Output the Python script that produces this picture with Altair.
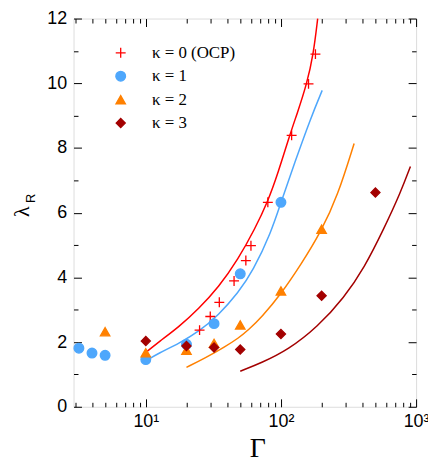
import altair as alt
import pandas as pd

# ---------------- data ----------------
series_names = ["κ = 0 (OCP)", "κ = 1", "κ = 2", "κ = 3"]
series_colors = ["#ff0000", "#4ea7fc", "#ff8000", "#a30000"]
series_shapes = ["M-1,0H1M0,-1V1", "circle", "triangle-up", "diamond"]
series_sizes = [100, 85, 110, 100]

# symbols
k0_gamma = [25, 30, 35, 45, 55, 60, 80, 120, 160, 180]
k0_lambda = [2.37, 2.79, 3.23, 3.89, 4.52, 4.98, 6.32, 8.39, 9.98, 10.9]
k1_gamma = [3.2, 4, 5, 10, 20, 32, 50, 100]
k1_lambda = [1.81, 1.66, 1.59, 1.46, 1.93, 2.57, 4.11, 6.32]
k2_gamma = [5, 10, 20, 32, 50, 100, 200]
k2_lambda = [2.32, 1.67, 1.75, 1.96, 2.53, 3.58, 5.49]
k3_gamma = [10, 20, 32, 50, 100, 200, 500]
k3_lambda = [2.03, 1.88, 1.83, 1.77, 2.25, 3.43, 6.62]

# curves
c0_gamma = [10, 12.5, 17.6, 24.6, 34.5, 48.4, 64.3, 79.6, 95.3, 116, 131.5, 155, 174, 187]
c0_lambda = [1.68, 2.01, 2.47, 3.03, 3.69, 4.57, 5.51, 6.32, 7.23, 8.39, 9.05, 9.96, 10.9, 12.0]
c1_gamma = [10, 12.5, 17.6, 24.6, 34.5, 48.4, 62, 85, 100, 126, 167, 202]
c1_lambda = [1.42, 1.66, 1.96, 2.32, 2.83, 3.53, 4.19, 5.41, 6.32, 7.53, 8.95, 9.78]
c2_gamma = [20, 27.6, 38.7, 48.4, 57.4, 72, 100, 141, 198, 263, 348]
c2_lambda = [1.22, 1.51, 1.86, 2.12, 2.37, 2.77, 3.48, 4.40, 5.41, 6.52, 8.14]
c3_gamma = [50, 72, 113, 187, 294, 413, 579, 767, 908]
c3_lambda = [1.10, 1.36, 1.76, 2.47, 3.38, 4.29, 5.51, 6.62, 7.43]

x_major = [10, 100, 1000]
x_minor = [3, 4, 5, 6, 7, 8, 9, 20, 30, 40, 50, 60, 70, 80, 90,
           200, 300, 400, 500, 600, 700, 800, 900]
y_major = [0, 2, 4, 6, 8, 10, 12]
y_minor = [1, 3, 5, 7, 9, 11]

x_title = "Γ"
y_title = "λ"
y_title_sub = ["R"]


# ---------------- tables ----------------
def build(pairs):
    rows = []
    idx = 0
    for name, gs, ls in pairs:
        for g, l in zip(gs, ls):
            rows.append({"series": name, "gamma": g, "lam": l, "idx": idx})
            idx += 1
    return pd.DataFrame(rows)


points_df = build([(series_names[0], k0_gamma, k0_lambda),
                   (series_names[1], k1_gamma, k1_lambda),
                   (series_names[2], k2_gamma, k2_lambda),
                   (series_names[3], k3_gamma, k3_lambda)])
curves_df = build([(series_names[0], c0_gamma, c0_lambda),
                   (series_names[1], c1_gamma, c1_lambda),
                   (series_names[2], c2_gamma, c2_lambda),
                   (series_names[3], c3_gamma, c3_lambda)])

W, H = 345, 391

x_scale = alt.Scale(type="log", domain=[2.92, 1000], nice=False)
y_scale = alt.Scale(domain=[0, 12], nice=False, zero=False)
color_scale = alt.Scale(domain=series_names, range=series_colors)
shape_scale = alt.Scale(domain=series_names, range=series_shapes)
size_scale = alt.Scale(domain=series_names, range=series_sizes)
line_color_scale = alt.Scale(range=series_colors)  # data-driven domain (sorted)

legend = alt.Legend(
    orient="none", legendX=39, legendY=26, title=None, padding=0,
    labelFont="Liberation Serif", labelFontSize=17, labelColor="black",
    labelOffset=23, rowPadding=5.6, symbolStrokeWidth=1.3,
)

label_x_axis = alt.Axis(
    orient="bottom", values=x_major,
    labelExpr="'10' + (datum.value < 50 ? '¹' : datum.value < 500 ? '²' : '³')",
    ticks=False, tickSize=0, domain=False, grid=False,
    labelPadding=6, labelFont="Liberation Sans", labelFontSize=18,
    labelColor="black", labelFlush=False, labelOverlap=False,
    title=x_title, titleFont="Liberation Serif", titleFontSize=28,
    titleFontWeight="normal", titleColor="black",
    titleX=185, titleY=42, titleBaseline="middle", titleAlign="center",
)
label_y_axis = alt.Axis(
    orient="left", values=y_major,
    ticks=False, tickSize=0, domain=False, grid=False,
    labelPadding=7, labelFont="Liberation Sans", labelFontSize=18,
    labelColor="black", labelFlush=False, labelOverlap=False,
    title=y_title, titleFont="Liberation Serif", titleFontSize=22,
    titleFontWeight="normal", titleColor="black", titleAngle=270,
    titleX=-52, titleY=194, titleBaseline="middle", titleAlign="center",
)

curves = alt.Chart(curves_df).mark_line(strokeWidth=1.5, interpolate="basis").encode(
    x=alt.X("gamma:Q", scale=x_scale, axis=None),
    y=alt.Y("lam:Q", scale=y_scale, axis=None),
    color=alt.Color("series:N", scale=line_color_scale, legend=None),
    order=alt.Order("idx:Q"),
)

points = alt.Chart(points_df).mark_point(filled=True, opacity=1, strokeWidth=1.3).encode(
    x=alt.X("gamma:Q", scale=x_scale, axis=label_x_axis),
    y=alt.Y("lam:Q", scale=y_scale, axis=label_y_axis),
    fill=alt.Fill("series:N", scale=color_scale, legend=legend),
    stroke=alt.Stroke("series:N", scale=color_scale, legend=legend),
    shape=alt.Shape("series:N", scale=shape_scale, legend=legend),
    size=alt.Size("series:N", scale=size_scale, legend=legend),
    order=alt.Order("idx:Q"),
)


def tick_layer(channel, orient, values, size, offset):
    ax = alt.Axis(orient=orient, offset=offset, values=values, tickSize=size,
                  ticks=True, labels=False, domain=False, grid=False, title=None,
                  tickColor="black", tickWidth=1)
    if channel == "x":
        enc = dict(x=alt.X("gamma:Q", scale=x_scale, axis=ax),
                   y=alt.Y("lam:Q", scale=y_scale, axis=None))
    else:
        enc = dict(x=alt.X("gamma:Q", scale=x_scale, axis=None),
                   y=alt.Y("lam:Q", scale=y_scale, axis=ax))
    return alt.Chart(points_df).mark_point(opacity=0).encode(**enc)


tick_layers = [
    tick_layer("x", "top", x_major, 8, -H),      # bottom edge, inward ticks
    tick_layer("x", "top", x_minor, 4.5, -H),
    tick_layer("x", "bottom", x_major, 8, -H),   # top edge, inward ticks
    tick_layer("x", "bottom", x_minor, 4.5, -H),
    tick_layer("y", "right", y_major, 8, -W),    # left edge, inward ticks
    tick_layer("y", "right", y_minor, 4.5, -W),
    tick_layer("y", "left", y_major, 8, -W),     # right edge, inward ticks
    tick_layer("y", "left", y_minor, 4.5, -W),
]

sub = alt.Chart(pd.DataFrame({"t": y_title_sub})).mark_text(
    angle=270, font="Liberation Sans", fontSize=13, align="center",
    baseline="middle", color="black",
).encode(text="t:N", x=alt.value(-43), y=alt.value(181))

chart = alt.layer(curves, points, *tick_layers, sub).resolve_axis(
    x="independent", y="independent"
).properties(
    width=W, height=H,
    padding={"left": 66, "top": 9, "right": 12, "bottom": 55},
    autosize=alt.AutoSizeParams(type="none"),
).configure_view(stroke="black", strokeWidth=1.3).configure(background="white")

chart.save("out.html", embed_options={"renderer": "svg", "actions": False})
